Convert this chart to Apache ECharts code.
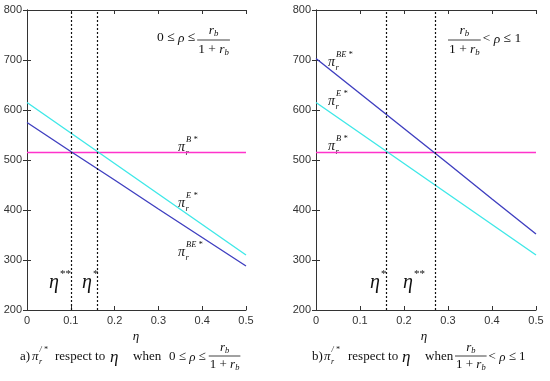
<!DOCTYPE html>
<html><head><meta charset="utf-8">
<script src="https://cdn.jsdelivr.net/npm/echarts@6/dist/echarts.min.js"></script>
<style>html,body{margin:0;padding:0;background:#fff}#c{width:550px;height:381px}</style>
</head><body><div id="c"></div>
<script>
var etaX = [0, 0.1, 0.2, 0.3, 0.4, 0.5];
var leftBE = [575, 517, 460, 402, 345, 288];
var leftE = [615, 554, 493, 432, 371, 310];
var leftB = [515, 515, 515, 515, 515, 515];
var rightBE = [703, 633, 563, 493, 422, 352];
var rightE = [615, 554, 493, 432, 371, 310];
var rightB = [515, 515, 515, 515, 515, 515];
var leftEtaMarks = [0.104, 0.164];
var rightEtaMarks = [0.164, 0.268];

var SERIF = '"Liberation Serif","Times New Roman",serif';
var cBE = '#4040c0', cE = '#40e8e8', cB = '#ff33cc';

function pairs(xs, ys){ return xs.map(function(x,i){return [x, ys[i]];}); }

function xAx(g, pos, labels){
  return {type:'value', gridIndex:g, position:pos, min:0, max:0.5, interval:0.1,
    axisLine:{show:true, lineStyle:{color:'#333', width:1}},
    axisTick:{show:true, inside:true, length:4, lineStyle:{color:'#333'}},
    splitLine:{show:false},
    axisLabel:{show:labels, color:'#333', fontFamily:'"Liberation Sans",Arial', fontSize:11, margin:5,
      formatter:function(v){return String(Math.round(v*10)/10);}}};
}
function yAx(g, pos, labels){
  return {type:'value', gridIndex:g, position:pos, min:200, max:800, interval:100,
    axisLine:{show:true, lineStyle:{color:'#333', width:1}},
    axisTick:{show:true, inside:true, length:4, lineStyle:{color:'#333'}},
    splitLine:{show:false},
    axisLabel:{show:labels, color:'#333', fontFamily:'"Liberation Sans",Arial', fontSize:11, margin:5}};
}
function line(xi, yi, ys, color, marks){
  var s = {type:'line', xAxisIndex:xi, yAxisIndex:yi, data:pairs(etaX, ys), showSymbol:false,
    lineStyle:{color:color, width:1.4}, silent:true, animation:false};
  if(marks){
    s.markLine = {silent:true, symbol:['none','none'], label:{show:false}, animation:false,
      lineStyle:{color:'#111', type:[2,2], width:1.2},
      data: marks.map(function(m){return {xAxis:m};})};
  }
  return s;
}

var cv = document.createElement('canvas').getContext('2d');
function fnt(size, italic){ return (italic?'italic ':'')+size+'px '+SERIF; }
function w(s, size, italic){ cv.font = fnt(size, italic); return cv.measureText(s).width; }

var G = [];
function txt(x, y, s, size, italic, align){
  G.push({type:'text', x:x, y:y, silent:true,
    style:{text:s, font:fnt(size, italic), fill:'#111',
      textAlign:align||'left', textVerticalAlign:'middle'}});
}
function seq(x, y, parts){
  parts.forEach(function(p){
    txt(x, y+(p[3]||0), p[0], p[1], p[2]);
    if(p[4] !== false) x += w(p[0], p[1], p[2]);
  });
  return x;
}
function pi(x, y, sup, size){
  size = size || 14;
  txt(x, y, 'π', size, true);
  var pw = w('π', size, true);
  txt(x+pw+0.5, y+size*0.4, 'r', size*0.62, true);
  txt(x+pw+1, y-size*0.52, sup, size*0.6, true);
}
function eta(x, y, sup){
  txt(x, y, 'η', 20, true);
  txt(x+11, y-9, sup, 11, false);
}
function frac(x, y, size, dn){
  var dw = w('1 + ', size) + w('r', size, true) + w('b', size*0.65, true);
  var nw = w('r', size, true) + w('b', size*0.65, true);
  var lw = dw + 2;
  G.push({type:'line', silent:true, shape:{x1:x, y1:y, x2:x+lw, y2:y}, style:{stroke:'#111', lineWidth:0.8}});
  seq(x + (lw-nw)/2, y - dn, [['r', size, true], ['b', size*0.65, true, 3]]);
  seq(x + 1, y + dn, [['1 + ', size], ['r', size, true], ['b', size*0.65, true, 3]]);
  return x + lw;
}

var xx = seq(157, 37, [['0 ≤ ', 13.5], ['ρ', 13.5, true, 1], [' ≤', 13.5]]);
frac(xx+2, 40, 13.5, 9.5);

xx = frac(448, 40, 13.5, 9.5);
seq(xx+2, 38, [['< ', 13.5], ['ρ', 13.5, true, 1], [' ≤ 1', 13.5]]);

pi(178, 147, 'B *');
pi(178, 203, 'E *');
pi(178, 252, 'BE *');
pi(328, 62, 'BE *');
pi(328, 101, 'E *');
pi(328, 146, 'B *');

eta(49, 283, '**');
eta(82, 283, '*');
eta(370, 283, '*');
eta(403, 283, '**');

txt(136, 337, 'η', 13, true, 'center');
txt(424, 337, 'η', 13, true, 'center');

txt(20, 357, 'a)', 13);
pi(32, 357, '/ *', 13);
txt(55, 357, 'respect to', 13);
txt(110, 358, 'η', 17, true);
txt(133, 357, 'when', 13);
xx = seq(169, 357, [['0 ≤ ', 13], ['ρ', 13, true, 1], [' ≤', 13]]);
frac(xx+3, 356, 13, 8.5);

txt(312, 357, 'b)', 13);
pi(324, 357, '/ *', 13);
txt(348, 357, 'respect to', 13);
txt(402, 358, 'η', 17, true);
txt(425, 357, 'when', 13);
xx = frac(455, 356, 13, 8.5);
seq(xx+2, 357, [['< ', 13], ['ρ', 13, true, 1], [' ≤ 1', 13]]);

var chart = echarts.init(document.getElementById('c'), null, {renderer:'canvas'});
chart.setOption({
  animation:false,
  backgroundColor:'#fff',
  grid:[{left:27, top:10, width:219, height:300, show:false},
        {left:316, top:10, width:220, height:300, show:false}],
  xAxis:[xAx(0,'bottom',true), xAx(0,'top',false), xAx(1,'bottom',true), xAx(1,'top',false)],
  yAxis:[yAx(0,'left',true), yAx(0,'right',false), yAx(1,'left',true), yAx(1,'right',false)],
  series:[
    line(0,0,leftB,cB,leftEtaMarks),
    line(0,0,leftE,cE),
    line(0,0,leftBE,cBE),
    line(2,2,rightB,cB,rightEtaMarks),
    line(2,2,rightE,cE),
    line(2,2,rightBE,cBE)
  ],
  graphic:G
});
</script></body></html>
